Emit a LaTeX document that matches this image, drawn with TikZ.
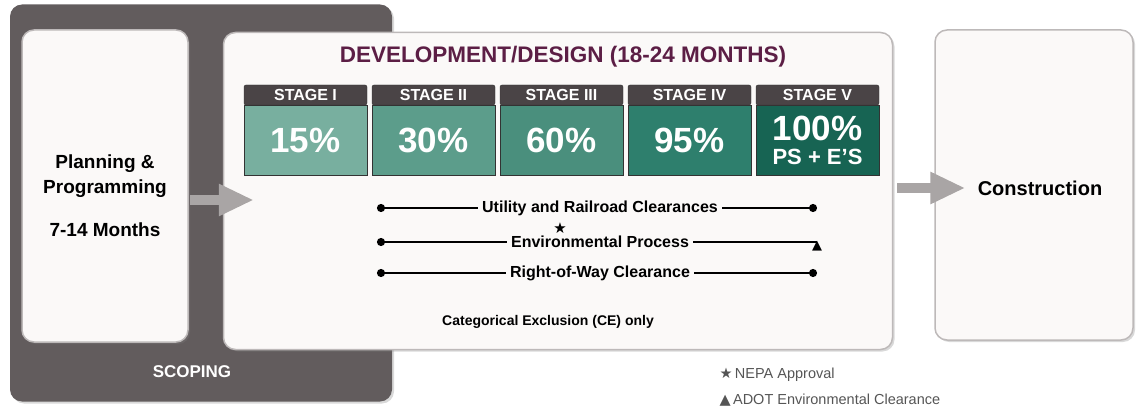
\documentclass[tikz,border=0pt]{standalone}
\usepackage{fontspec}
\setmainfont{Liberation Sans}
\newfontfamily\symfont{DejaVu Sans}
\usepackage{tikz}
\usetikzlibrary{calc,positioning,arrows.meta,shadows}

\definecolor{scopegray}{HTML}{625C5D}
\definecolor{panelfill}{HTML}{FBF9F8}
\definecolor{panelline}{HTML}{BDB9B9}
\definecolor{headgray}{HTML}{4A4446}
\definecolor{titleplum}{HTML}{5C1E45}
\definecolor{arrowgray}{HTML}{A9A5A5}
\definecolor{stageA}{HTML}{78AF9F}
\definecolor{stageB}{HTML}{5C9D8B}
\definecolor{stageC}{HTML}{4A8F7D}
\definecolor{stageD}{HTML}{2E7F6D}
\definecolor{stageE}{HTML}{176453}
\definecolor{legendgray}{HTML}{555555}

\begin{document}
\begin{tikzpicture}[x=1pt,y=-1pt,
	panel/.style={draw=panelline, fill=panelfill, line width=1.5pt, rounded corners=12pt,
		drop shadow={shadow xshift=2pt, shadow yshift=-2pt, opacity=0.3}},
	stagehead/.style={draw=black!80, fill=headgray, rounded corners=2pt, minimum width=123pt,
		minimum height=20pt, inner sep=0pt, text=white, font=\fontsize{16}{16}\selectfont\bfseries},
	stagebody/.style={draw=black!80, minimum width=123pt, minimum height=70pt, inner sep=0pt,
		text=white, align=center, font=\fontsize{35}{30}\selectfont\bfseries},
	lbl/.style={inner sep=4pt, font=\fontsize{16}{16}\selectfont\bfseries},
	track/.style={line width=2pt},
	bigarrow/.style={line width=10pt, arrowgray, -{Triangle[length=35pt,width=30pt]}},
	legend/.style={anchor=west, text=legendgray, font=\fontsize{14.5}{14.5}\selectfont}]

	\useasboundingbox (0,0) rectangle (1136,417);

	\node[panel, draw=none, fill=scopegray, minimum width=382pt, minimum height=397pt] (scope) at (201,203) {};
	\node[text=white, font=\fontsize{17}{17}\selectfont\bfseries] (scopelbl) at (192,372) {SCOPING};

	\node[panel, minimum width=166pt, minimum height=312pt] (plan) at (105,186) {};
	\node[align=center, font=\fontsize{19}{25}\selectfont\bfseries] (plantxt) at (105,196) {Planning \&\\Programming\\[18pt]7-14 Months};

	\node[panel, minimum width=669pt, minimum height=317pt] (dev) at (558,191) {};
	\node[panel, minimum width=198pt, minimum height=310pt] (cons) at (1034,185) {};
	\node[font=\fontsize{20}{20}\selectfont\bfseries] (constxt) at (1040,188) {Construction};

	\draw[bigarrow] ($(plan.east)+(1,14)$) -- ++(64,0);
	\draw[bigarrow] ($(dev.east)+(4,-3)$) -- ++(68,0);

	\node[text=titleplum, font=\fontsize{22.5}{22.5}\selectfont\bfseries] (title) at (563,57) {DEVELOPMENT/DESIGN (18-24 MONTHS)};

	\foreach \hd/\pct/\col [count=\i from 0] in {STAGE I/15\%/stageA, STAGE II/30\%/stageB, STAGE III/60\%/stageC, STAGE IV/95\%/stageD,
		STAGE V/{100\%\\[-6pt]{\fontsize{22}{22}\selectfont PS + E'S}}/stageE} {
		\node[stagebody, fill=\col] (body\i) at ($(305.5,140)+128*(\i,0)$) {\pct};
		\node[stagehead] (head\i) at ($(305.5,95)+128*(\i,0)$) {\hd};
	}

	\node[lbl] (util) at (600,208) {Utility and Railroad Clearances};
	\node[lbl] (env) at (600,242) {Environmental Process};
	\node[lbl] (row) at (600,273) {Right-of-Way Clearance};
	\foreach \n in {util,env,row} {
		\coordinate (\n L) at (377,0 |- \n);
		\coordinate (\n R) at (817,0 |- \n);
		\draw[track, {Circle[length=8pt]}-] (\n L) -- (\n.west);
	}
	\draw[track, -{Circle[length=8pt]}] (util.east) -- (utilR);
	\draw[track, -{Circle[length=8pt]}] (row.east) -- (rowR);
	\draw[track] (env.east) -- (envR);
	\node[font=\symfont\fontsize{15}{15}\selectfont, inner sep=0pt] (nepa) at (560,228) {★};
	\node[font=\symfont\fontsize{13}{13}\selectfont, inner sep=0pt] (adot) at (817,246) {▲};

	\node[font=\fontsize{14}{14}\selectfont\bfseries] (ce) at (548,322) {Categorical Exclusion (CE) only};

	\node[legend] (leg1) at (716,375) {{\symfont ★}\,NEPA Approval};
	\node[legend] (leg2) at (716,400) {{\symfont ▲}\,ADOT Environmental Clearance};
\end{tikzpicture}
\end{document}
